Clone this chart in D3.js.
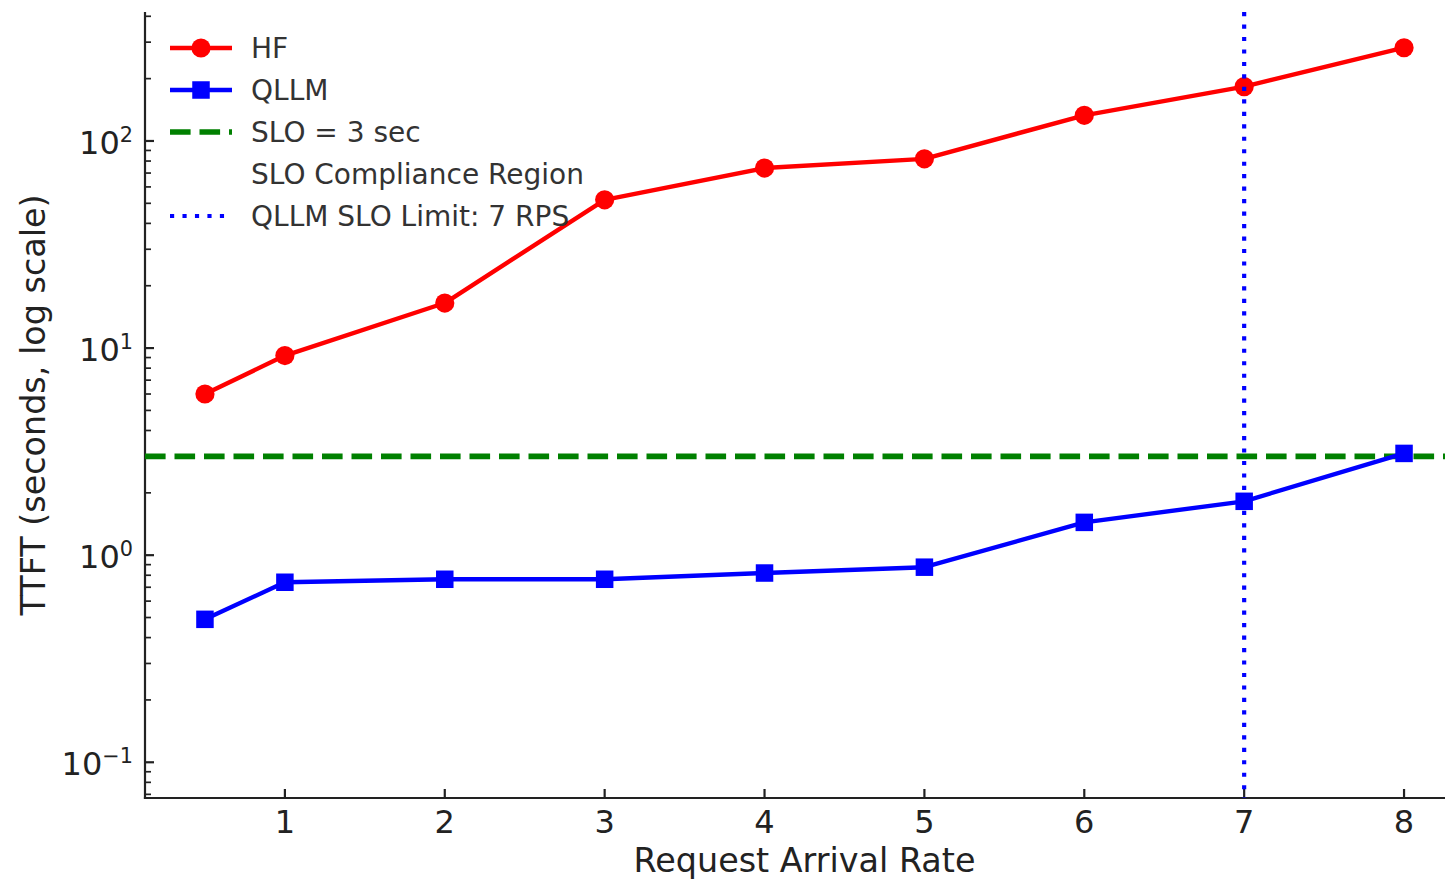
<!DOCTYPE html>
<html>
<head>
<meta charset="utf-8">
<script src="https://cdn.jsdelivr.net/npm/d3@7"></script>
<style>
  html, body { margin: 0; padding: 0; background: #fff; }
  svg { display: block; font-family: "DejaVu Sans", sans-serif; }
</style>
</head>
<body>
<svg id="chart" width="1445" height="880"></svg>
<script>
// ---- data ----
const arrivalRates = [0.5, 1, 2, 3, 4, 5, 6, 7, 8];
const hfTTFT = [6.0, 9.2, 16.5, 52, 74, 82, 133, 183, 282];
const qllmTTFT = [0.49, 0.74, 0.765, 0.765, 0.82, 0.875, 1.44, 1.82, 3.1];
const sloSeconds = 3;
const qllmSloLimitRps = 7;
const complianceRegion = [0.1, 3];
const xTickValues = [1, 2, 3, 4, 5, 6, 7, 8];
const yTickValues = [0.1, 1, 10, 100];
const yTickExponents = ["−1", "0", "1", "2"];
const legendLabels = ["HF", "QLLM", "SLO = 3 sec", "SLO Compliance Region", "QLLM SLO Limit: 7 RPS"];
const xLabel = "Request Arrival Rate";
const yLabel = "TTFT (seconds, log scale)";

// ---- layout ----
const svg = d3.select("#chart");
const pL = 145, pR = 1464, pT = 12, pB = 798;
const tickFs = 32, labelFs = 33.4, legendFs = 28;
const axisColor = "#222";
const legendColor = "#333";
const majorLen = 9, minorLen = 6;
const lw = 4.4, dotR = 9.6, sq = 17.5;

// x domain with matplotlib-style 5% margins
const xMin = d3.min(arrivalRates), xMax = d3.max(arrivalRates);
const xPad = (xMax - xMin) * 0.05;
const x = d3.scaleLinear().domain([xMin - xPad, xMax + xPad]).range([pL, pR]);

// y domain: log, including compliance region, 5% margins in log space
const lo = Math.log10(Math.min(complianceRegion[0], d3.min(qllmTTFT)));
const hi = Math.log10(d3.max(hfTTFT));
const lp = (hi - lo) * 0.05;
const y = d3.scaleLog().domain([Math.pow(10, lo - lp), Math.pow(10, hi + lp)]).range([pB, pT]);

const g = svg.append("g");

// compliance region (invisible in reference)
g.append("rect")
  .attr("x", pL).attr("width", pR - pL)
  .attr("y", y(complianceRegion[1])).attr("height", y(complianceRegion[0]) - y(complianceRegion[1]))
  .attr("fill", "green").attr("fill-opacity", 0);

// minor y ticks (inward)
const minor = [];
for (let e = -2; e <= 3; e++) for (let m = 2; m <= 9; m++) {
  const v = m * Math.pow(10, e);
  if (v >= y.domain()[0] && v <= y.domain()[1]) minor.push(v);
}
g.selectAll(".yminor").data(minor).enter().append("line")
  .attr("x1", pL).attr("x2", pL + minorLen)
  .attr("y1", d => y(d)).attr("y2", d => y(d))
  .attr("stroke", axisColor).attr("stroke-width", 1.7);

// major y ticks (inward)
g.selectAll(".ymajor").data(yTickValues).enter().append("line")
  .attr("x1", pL).attr("x2", pL + majorLen)
  .attr("y1", d => y(d)).attr("y2", d => y(d))
  .attr("stroke", axisColor).attr("stroke-width", 2.2);

const ylab = g.selectAll(".ylab").data(yTickValues).enter().append("text")
  .attr("x", pL - 12)
  .attr("y", d => y(d) + 13)
  .attr("text-anchor", "end")
  .attr("font-size", tickFs)
  .attr("fill", axisColor);
ylab.append("tspan").text("10");
ylab.append("tspan").attr("font-size", tickFs * 0.65).attr("dy", -12).text((d, i) => yTickExponents[i]);

// x ticks (inward)
g.selectAll(".xt").data(xTickValues).enter().append("line")
  .attr("x1", d => x(d)).attr("x2", d => x(d))
  .attr("y1", pB).attr("y2", pB - majorLen)
  .attr("stroke", axisColor).attr("stroke-width", 2.2);
g.selectAll(".xl").data(xTickValues).enter().append("text")
  .attr("x", d => x(d)).attr("y", 833)
  .attr("text-anchor", "middle")
  .attr("font-size", tickFs).attr("fill", axisColor)
  .text(d => d);

// spines
g.append("line").attr("x1", pL).attr("x2", pL).attr("y1", pT).attr("y2", pB + 1.1)
  .attr("stroke", axisColor).attr("stroke-width", 2.2);
g.append("line").attr("x1", pL - 1.1).attr("x2", pR).attr("y1", pB).attr("y2", pB)
  .attr("stroke", axisColor).attr("stroke-width", 2.2);

// axis labels
g.append("text").attr("x", (pL + pR) / 2).attr("y", 872)
  .attr("text-anchor", "middle").attr("font-size", labelFs).attr("fill", axisColor).text(xLabel);
g.append("text").attr("transform", `translate(45,${(pT + pB) / 2}) rotate(-90)`)
  .attr("text-anchor", "middle").attr("font-size", labelFs).attr("fill", axisColor).text(yLabel);

// series
const line = d3.line().x(d => x(d[0])).y(d => y(d[1]));
const hfPts = arrivalRates.map((r, i) => [r, hfTTFT[i]]);
const qPts = arrivalRates.map((r, i) => [r, qllmTTFT[i]]);

// SLO horizontal line
g.append("line").attr("x1", pL).attr("x2", pR)
  .attr("y1", y(sloSeconds)).attr("y2", y(sloSeconds))
  .attr("stroke", "green").attr("stroke-width", 5.56).attr("stroke-dasharray", "20.6,8.9");

g.append("path").datum(hfPts).attr("d", line).attr("fill", "none")
  .attr("stroke", "red").attr("stroke-width", lw).attr("stroke-linejoin", "round");
g.selectAll(".hfm").data(hfPts).enter().append("circle")
  .attr("cx", d => x(d[0])).attr("cy", d => y(d[1])).attr("r", dotR).attr("fill", "red");

g.append("path").datum(qPts).attr("d", line).attr("fill", "none")
  .attr("stroke", "blue").attr("stroke-width", lw).attr("stroke-linejoin", "round");
g.selectAll(".qm").data(qPts).enter().append("rect")
  .attr("x", d => x(d[0]) - sq / 2).attr("y", d => y(d[1]) - sq / 2)
  .attr("width", sq).attr("height", sq).attr("fill", "blue");

// vertical SLO limit
g.append("line").attr("x1", x(qllmSloLimitRps)).attr("x2", x(qllmSloLimitRps))
  .attr("y1", pT).attr("y2", pB)
  .attr("stroke", "blue").attr("stroke-width", 4.17).attr("stroke-dasharray", "4.17,8.3");

// legend
const lg = svg.append("g");
const rowY = [48, 90, 132, 174, 216];
const hx1 = 170, hx2 = 232, tx = 251;
// HF
lg.append("line").attr("x1", hx1).attr("x2", hx2).attr("y1", rowY[0]).attr("y2", rowY[0])
  .attr("stroke", "red").attr("stroke-width", lw);
lg.append("circle").attr("cx", (hx1 + hx2) / 2).attr("cy", rowY[0]).attr("r", dotR).attr("fill", "red");
// QLLM
lg.append("line").attr("x1", hx1).attr("x2", hx2).attr("y1", rowY[1]).attr("y2", rowY[1])
  .attr("stroke", "blue").attr("stroke-width", lw);
lg.append("rect").attr("x", (hx1 + hx2) / 2 - sq / 2).attr("y", rowY[1] - sq / 2)
  .attr("width", sq).attr("height", sq).attr("fill", "blue");
// SLO
lg.append("line").attr("x1", hx1).attr("x2", hx2).attr("y1", rowY[2]).attr("y2", rowY[2])
  .attr("stroke", "green").attr("stroke-width", 5.56).attr("stroke-dasharray", "20.6,8.9");
// compliance: invisible patch
lg.append("rect").attr("x", hx1).attr("y", rowY[3] - 10).attr("width", hx2 - hx1).attr("height", 20)
  .attr("fill", "green").attr("fill-opacity", 0);
// limit
lg.append("line").attr("x1", hx1).attr("x2", hx2).attr("y1", rowY[4]).attr("y2", rowY[4])
  .attr("stroke", "blue").attr("stroke-width", 4.17).attr("stroke-dasharray", "4.17,8.3");

lg.selectAll(".lt").data(legendLabels).enter().append("text")
  .attr("x", tx).attr("y", (d, i) => rowY[i] + 10)
  .attr("font-size", legendFs).attr("fill", legendColor).text(d => d);
</script>
</body>
</html>
